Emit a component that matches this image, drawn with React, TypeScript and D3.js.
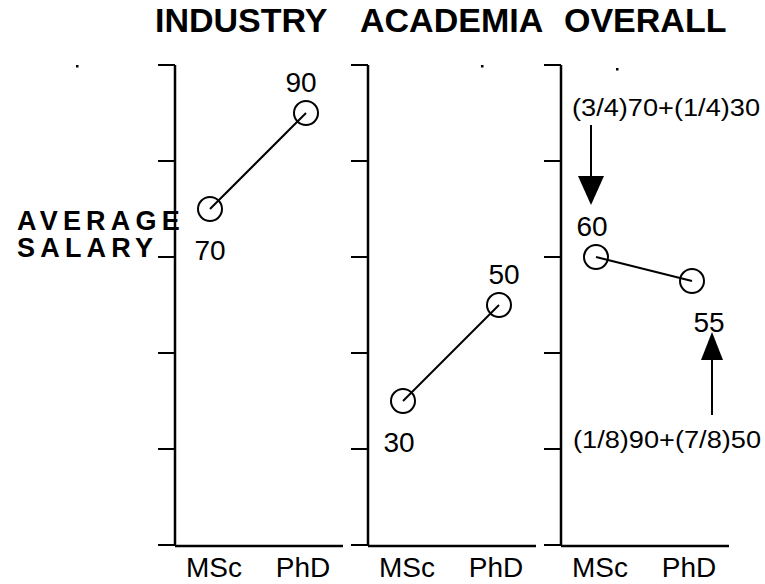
import React from 'react';
import * as d3 from 'd3';

// chart values
const panels = ['INDUSTRY', 'ACADEMIA', 'OVERALL'];
const degrees = ['MSc', 'PhD'];
const industrySalary = [70, 90];
const academiaSalary = [30, 50];
const overallSalary = [60, 55];
const yTicks = [0, 20, 40, 60, 80, 100];
const annotationTop = '(3/4)70+(1/4)30';
const annotationBottom = '(1/8)90+(7/8)50';

const W = 765;
const H = 584;
const FONT = '"Liberation Sans", Arial, Helvetica, sans-serif';

// layout tweaks (not data)
const titleDx = [-20, -8, 3];
const degreeDx = [4, -3];
const labelSide = [
  ['below', 'above'],
  ['below', 'above'],
  ['above', 'below'],
];
const labelDx = [
  [0, -5],
  [-4, 5],
  [-4, 17],
];

const App: React.FC = () => {
  const series = [industrySalary, academiaSalary, overallSalary];

  const yScale = d3.scaleLinear().domain([0, 100]).range([545, 65]);
  const panelX = d3.scalePoint<string>().domain(panels).range([175, 561]);
  const degreeX = d3.scalePoint<string>().domain(degrees).range([35, 131]);
  const panelWidth = 168;
  const tickLen = 17;

  const line = d3
    .line<number>()
    .x((_, i) => degreeX(degrees[i])!)
    .y((d) => yScale(d));

  return (
    <svg
      width={W}
      height={H}
      style={{ position: 'absolute', left: 0, top: 0, background: '#fff' }}
      fontFamily={FONT}
    >
      <rect width={W} height={H} fill="#fff" />

      {/* y label */}
      <text x={17} y={230} fontSize={27} fontWeight="bold" letterSpacing={5.2}>
        AVERAGE
      </text>
      <text x={17} y={257} fontSize={27} fontWeight="bold" letterSpacing={5.2}>
        SALARY
      </text>

      {panels.map((p, pi) => {
        const x0 = panelX(p)!;
        const vals = series[pi];
        return (
          <g key={p} transform={`translate(${x0},0)`}>
            {/* title */}
            <text x={titleDx[pi]} y={32} fontSize={34} fontWeight="bold">
              {p}
            </text>

            {/* y axis */}
            <line x1={0} x2={0} y1={yScale(100)} y2={yScale(0) + 1} stroke="#000" strokeWidth={2.5} />
            {yTicks.map((t) => (
              <line
                key={t}
                x1={-tickLen}
                x2={0}
                y1={yScale(t)}
                y2={yScale(t)}
                stroke="#000"
                strokeWidth={2}
              />
            ))}

            {/* x axis */}
            <line x1={0} x2={panelWidth} y1={yScale(0) + 1} y2={yScale(0) + 1} stroke="#000" strokeWidth={2.5} />
            {degrees.map((d, i) => (
              <text key={d} x={degreeX(d)! + degreeDx[i]} y={577} textAnchor="middle" fontSize={28}>
                {d}
              </text>
            ))}

            {/* data */}
            <path d={line(vals) || ''} fill="none" stroke="#000" strokeWidth={2} />
            {vals.map((v, i) => {
              const cx = degreeX(degrees[i])!;
              const cy = yScale(v);
              const above = labelSide[pi][i] === 'above';
              return (
                <g key={i}>
                  <circle cx={cx} cy={cy} r={12} fill="none" stroke="#000" strokeWidth={2} />
                  <text
                    x={cx + labelDx[pi][i]}
                    y={above ? cy - 21 : cy + 51}
                    textAnchor="middle"
                    fontSize={28}
                  >
                    {v}
                  </text>
                </g>
              );
            })}
          </g>
        );
      })}

      {/* annotations on the overall panel */}
      {(() => {
        const x0 = panelX('OVERALL')!;
        const ax1 = x0 + degreeX('MSc')! - 5;
        const ax2 = x0 + degreeX('PhD')! + 20;
        const tip1 = yScale(overallSalary[0]) - 52;
        const tip2 = yScale(overallSalary[1]) + 51;
        return (
          <g>
            <text x={x0 + 11} y={116} fontSize={23} textLength={188} lengthAdjust="spacingAndGlyphs">
              {annotationTop}
            </text>
            <line x1={ax1} x2={ax1} y1={125} y2={tip1 - 25} stroke="#000" strokeWidth={2} />
            <path d={`M${ax1 - 13},${tip1 - 29}L${ax1 + 13},${tip1 - 29}L${ax1},${tip1}Z`} fill="#000" />

            <text x={x0 + 12} y={448} fontSize={23} textLength={188} lengthAdjust="spacingAndGlyphs">
              {annotationBottom}
            </text>
            <line x1={ax2} x2={ax2} y1={415} y2={tip2 + 25} stroke="#000" strokeWidth={2} />
            <path d={`M${ax2 - 11},${tip2 + 28}L${ax2 + 11},${tip2 + 28}L${ax2},${tip2}Z`} fill="#000" />
          </g>
        );
      })()}

      {/* stray dots */}
      <rect x={76} y={65} width={2.5} height={2.5} fill="#000" />
      <rect x={481} y={65} width={2.5} height={2.5} fill="#000" />
      <rect x={616} y={68} width={2.5} height={2.5} fill="#000" />
    </svg>
  );
};

export default App;
